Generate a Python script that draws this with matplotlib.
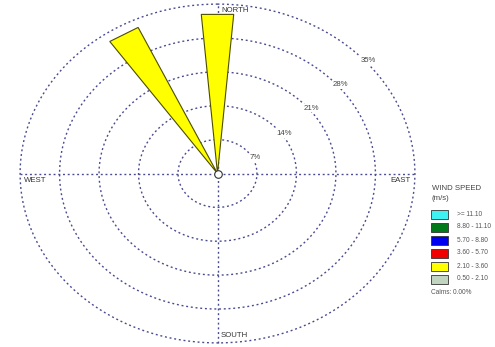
import numpy as np
import matplotlib.pyplot as plt
from matplotlib.patches import Polygon, Rectangle

plt.rcParams["font.family"] = ["Liberation Sans", "DejaVu Sans"]

# ── Data ──
# wind directions (deg from north) and frequency (%) of the 2.10 - 3.60 m/s class
directions = [0, 330]
freq_2_10_3_60 = [33.0, 33.3]
sector_width = 10  # 36 sectors

ring_values = [7, 14, 21, 28, 35]
ring_labels = ["7%", "14%", "21%", "28%", "35%"]

speed_classes = [">= 11.10", "8.80 - 11.10", "5.70 - 8.80",
                 "3.60 - 5.70", "2.10 - 3.60", "0.50 - 2.10"]
class_colors = ["#3ff2f2", "#007a1a", "#0000f0", "#f00000", "#ffff00", "#c0d4c0"]
calms = 0.00

W, H = 495, 347
fig = plt.figure(figsize=(W / 100, H / 100), dpi=100)
ax = fig.add_axes([0, 0, 1, 1])
ax.set_axis_off()

# pixel scale: center (217.5, 173.5), 5.64 px/% across, 4.84 px/% up
cx, cy, sx, sy = 217.5, 173.5, 5.64, 4.84
ax.set_xlim(-cx / sx, (W - cx) / sx)
ax.set_ylim(-(H - cy) / sy, cy / sy)

ring_col = "#4a4a90"
ls = (0, (1.4, 2.0))
t = np.linspace(0, 2 * np.pi, 400)
for r in ring_values:
    ax.plot(r * np.sin(t), r * np.cos(t), color=ring_col, lw=1.0, ls=ls, zorder=1)
rmax = ring_values[-1]
ax.plot([-rmax, rmax], [0, 0], color=ring_col, lw=1.0, ls=ls, zorder=1)
ax.plot([0, 0], [-rmax, rmax], color=ring_col, lw=1.0, ls=ls, zorder=1)

# ring labels along a diagonal, blanking the ring behind them
label_angles = [63, 55, 51, 50, 49]
for r, lab, a in zip(ring_values, ring_labels, label_angles):
    rr = r + 0.5
    ax.text(rr * np.sin(np.radians(a)), rr * np.cos(np.radians(a)), lab,
            fontsize=5.6, color="#444444", ha="center", va="center", zorder=3,
            bbox=dict(facecolor="white", edgecolor="none", pad=0.6))

# petals (triangles from center)
for d, f in zip(directions, freq_2_10_3_60):
    a1 = np.radians(d - sector_width / 2)
    a2 = np.radians(d + sector_width / 2)
    pts = [(0, 0), (f * np.sin(a1), f * np.cos(a1)), (f * np.sin(a2), f * np.cos(a2))]
    ax.add_patch(Polygon(pts, closed=True, facecolor=class_colors[4],
                         edgecolor="#4d4d00", lw=0.8, zorder=4))

ax.scatter([0], [0], s=30, facecolor="white", edgecolor="#333333", lw=0.8, zorder=5)

# compass labels
lab_kw = dict(fontsize=5.6, color="#333333", va="center", zorder=6)
ax.text(0.6, 33.6, "NORTH", ha="left", **lab_kw)
ax.text(0.6, -33.4, "SOUTH", ha="left", **lab_kw)
ax.text(-34.3, -1.5, "WEST", ha="left", **lab_kw)
ax.text(34.3, -1.5, "EAST", ha="right", **lab_kw)

# legend (figure pixel positions)
def fx(x):
    return x / W

def fy(y):
    return 1 - y / H

fig.text(fx(432), fy(189), "WIND SPEED", fontsize=5.6, color="#444444", va="center")
fig.text(fx(432), fy(198.5), "(m/s)", fontsize=5.6, color="#444444", va="center")
for i, (lab, col) in enumerate(zip(speed_classes, class_colors)):
    yc = 214 + 13 * i
    fig.patches.append(Rectangle((fx(431), fy(yc + 4.5)), 17 / W, 9 / H,
                                 transform=fig.transFigure, facecolor=col,
                                 edgecolor="#333333", lw=0.6))
    fig.text(fx(457), fy(yc), lab, fontsize=4.7, color="#555555", va="center")
fig.text(fx(431), fy(293), f"Calms: {calms:.2f}%", fontsize=4.7, color="#555555", va="center")

fig.savefig("out.png", dpi=100)
